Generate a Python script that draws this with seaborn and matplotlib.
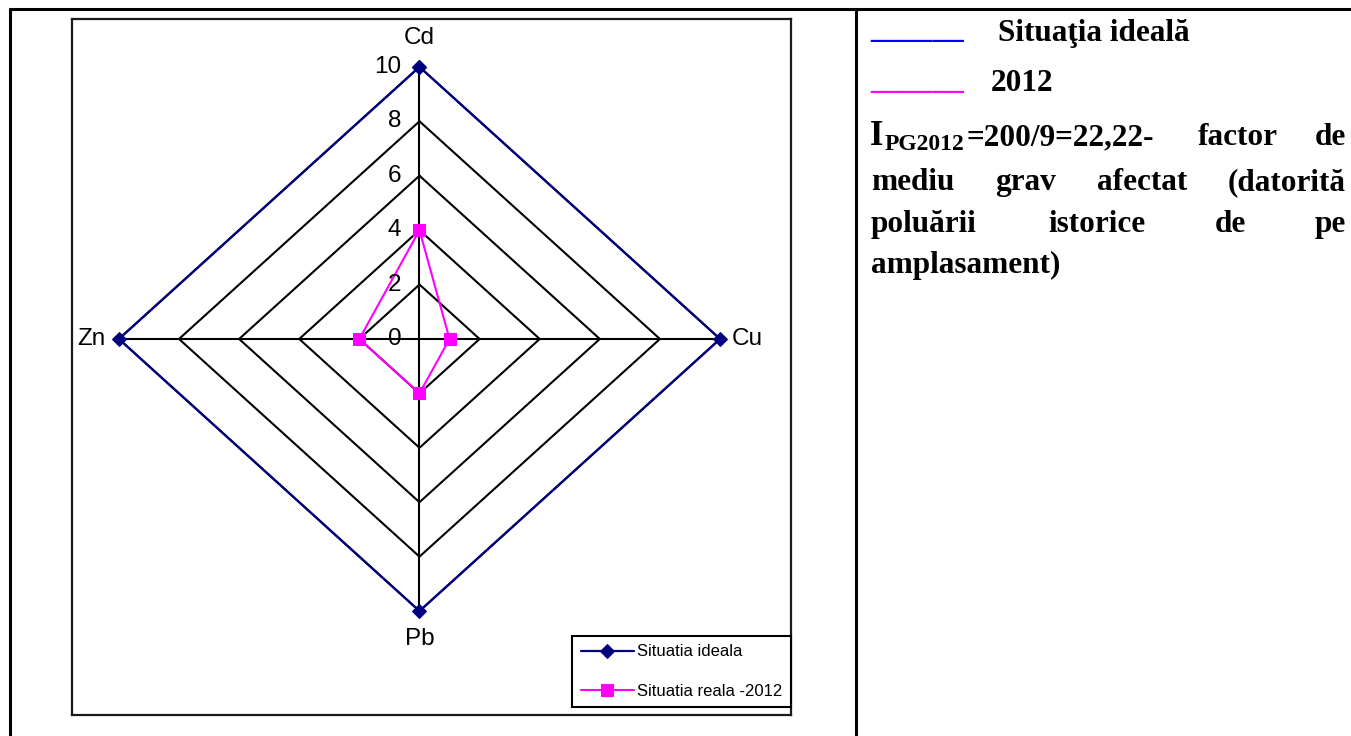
import numpy as np
import matplotlib
matplotlib.use('Agg')
import matplotlib.pyplot as plt
from matplotlib.lines import Line2D
import seaborn as sns

# Data
categories = ['Cd', 'Cu', 'Pb', 'Zn']
ideal = [10, 10, 10, 10]
real_2012 = [4, 1, 2, 2]
ring_levels = [0, 2, 4, 6, 8, 10]
series_names = ['Situatia ideala', 'Situatia reala -2012']

sns.set_style('white')
plt.rcParams['font.family'] = ['Liberation Sans', 'DejaVu Sans']
plt.rcParams['text.color'] = 'black'

W, H = 1351, 736
fig = plt.figure(figsize=(W / 100, H / 100), dpi=100)


def fx(px):
    return px / W


def fy(py):
    return 1 - py / H


def radar_xy(vals):
    # clockwise from top, closed polygon
    n = len(vals)
    th = np.pi / 2 - 2 * np.pi * np.arange(n) / n
    v = np.asarray(vals, dtype=float)
    x = v * np.cos(th)
    y = v * np.sin(th)
    return np.append(x, x[0]), np.append(y, y[0])


# chart box (left table cell)
ax = fig.add_axes([fx(72), fy(715), (791 - 72) / W, (715 - 19) / H])
ax.set_xlim(-11.56, 12.36)
ax.set_ylim(-13.82, 11.76)
ax.set_xticks([])
ax.set_yticks([])
for s in ax.spines.values():
    s.set_color('#1a1a1a')
    s.set_linewidth(1.6)

# grid rings and spokes
for lv in ring_levels[1:]:
    gx, gy = radar_xy([lv] * len(categories))
    ax.plot(gx, gy, color='black', lw=1.5, zorder=1)
sx, sy = radar_xy([max(ring_levels)] * len(categories))
for xx, yy in zip(sx[:-1], sy[:-1]):
    ax.plot([0, xx], [0, yy], color='black', lw=1.5, zorder=1)

# series
xi, yi = radar_xy(ideal)
sns.lineplot(x=xi, y=yi, sort=False, estimator=None, color='#000080', lw=1.6,
             marker='D', markersize=7, markeredgecolor='#000080',
             label=series_names[0], ax=ax, zorder=3)
xr, yr = radar_xy(real_2012)
sns.lineplot(x=xr, y=yr, sort=False, estimator=None, color='#FF00FF', lw=1.5,
             marker='s', markersize=8.5, markeredgecolor='#FF00FF',
             label=series_names[1], ax=ax, zorder=4)

# value labels along the first axis
for lv in ring_levels:
    ax.annotate(str(lv), (0, lv), xytext=(-18, 0), textcoords='offset pixels',
                ha='right', va='center', fontsize=17.5, zorder=5)

# category labels
offsets = [((0, 29), 'center'), ((12, 0), 'left'), ((0, -28), 'center'), ((-13, 0), 'right')]
for cat, px_, py_, (off, ha) in zip(categories, sx[:-1], sy[:-1], offsets):
    ax.annotate(cat, (px_, py_), xytext=off, textcoords='offset pixels',
                ha=ha, va='center', fontsize=17.5)

leg = ax.legend(loc='lower right', bbox_to_anchor=(fx(791), fy(707)),
                bbox_transform=fig.transFigure, prop={'family': 'Liberation Sans', 'size': 12},
                frameon=True, fancybox=False, edgecolor='black', framealpha=1,
                borderpad=0.5, handlelength=3.2, handletextpad=0.2,
                labelspacing=1.45, borderaxespad=0)
leg.get_frame().set_linewidth(1.5)

# table borders
lw_tab = 2.2
fig.add_artist(Line2D([fx(10), 1], [fy(9), fy(9)], transform=fig.transFigure, color='black', lw=lw_tab))
fig.add_artist(Line2D([fx(10), fx(10)], [fy(9), 0], transform=fig.transFigure, color='black', lw=lw_tab))
fig.add_artist(Line2D([fx(856), fx(856)], [fy(9), 0], transform=fig.transFigure, color='black', lw=lw_tab))

# right cell text
serif = {'family': 'Liberation Serif', 'weight': 'bold', 'color': 'black'}
fs = 22.5
fig.text(fx(870), fy(38), '______', fontsize=fs, va='baseline',
         family='Liberation Serif', weight='bold', color='#0000FF')
fig.text(fx(998), fy(41), 'Situaţia ideală', fontsize=fs, va='baseline', **serif)
fig.text(fx(870), fy(89), '______', fontsize=fs, va='baseline',
         family='Liberation Serif', weight='bold', color='#FF00FF')
fig.text(fx(991), fy(91), '2012', fontsize=fs, va='baseline', **serif)

fig.text(fx(870), fy(145), 'I', fontsize=25, va='baseline', **serif)
fig.text(fx(885), fy(150), 'PG2012', fontsize=17, va='baseline', **serif)
fig.text(fx(966), fy(145), '=200/9=22,22-', fontsize=fs, va='baseline', **serif)
fig.text(fx(1198), fy(145), 'factor', fontsize=fs, va='baseline', **serif)
fig.text(fx(1346), fy(145), 'de', fontsize=fs, va='baseline', ha='right', **serif)

fig.text(fx(871), fy(190), 'mediu', fontsize=fs, va='baseline', **serif)
fig.text(fx(995), fy(190), 'grav', fontsize=fs, va='baseline', **serif)
fig.text(fx(1097), fy(190), 'afectat', fontsize=fs, va='baseline', **serif)
fig.text(fx(1346), fy(190), '(datorită', fontsize=fs, va='baseline', ha='right', **serif)

fig.text(fx(871), fy(232), 'poluării', fontsize=fs, va='baseline', **serif)
fig.text(fx(1048), fy(232), 'istorice', fontsize=fs, va='baseline', **serif)
fig.text(fx(1215), fy(232), 'de', fontsize=fs, va='baseline', **serif)
fig.text(fx(1346), fy(232), 'pe', fontsize=fs, va='baseline', ha='right', **serif)

fig.text(fx(871), fy(273), 'amplasament)', fontsize=fs, va='baseline', **serif)

fig.savefig('out.png', dpi=100)
